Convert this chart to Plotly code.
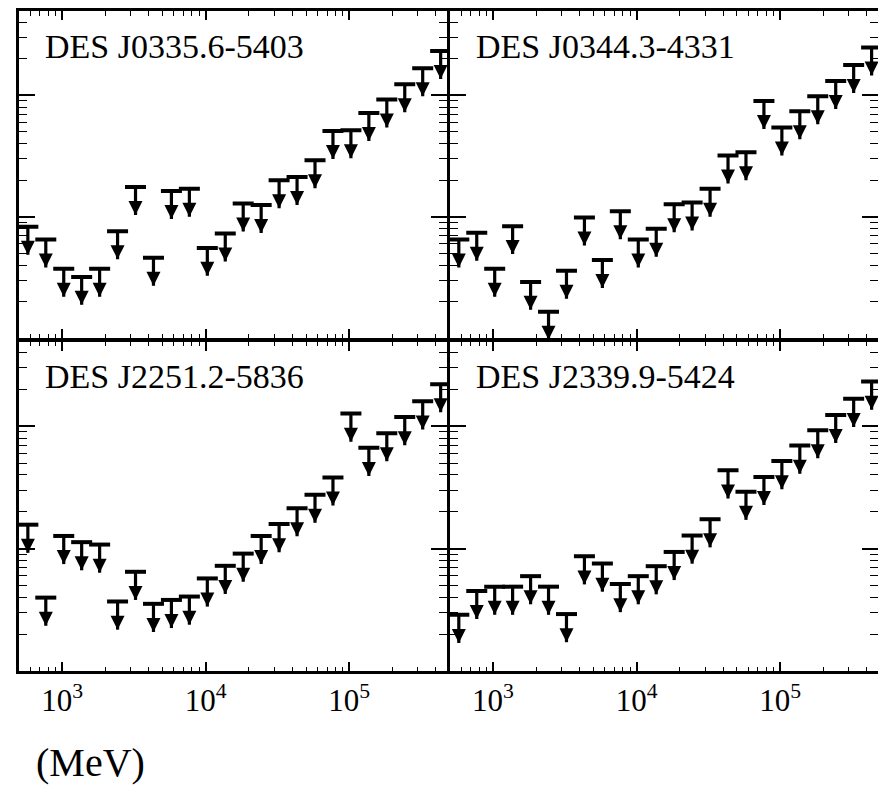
import numpy as np
import plotly.graph_objects as go
from plotly.subplots import make_subplots

# Energy bin centres (MeV)
energy_mev = [577.6, 770.1, 1027, 1369, 1826, 2435, 3247, 4330, 5774, 7700,
              10268, 13693, 18260, 24350, 32471, 43301, 57743, 77000,
              102683, 136931, 182601, 243504, 324719, 433020]

# Upper limits (arbitrary flux units)
ul_J0335 = [8.28e-14, 6.52e-14, 3.74e-14, 3.21e-14, 3.74e-14, 7.63e-14, 1.76e-13, 4.61e-14,
            1.63e-13, 1.70e-13, 5.56e-14, 7.31e-14, 1.29e-13, 1.25e-13, 2.00e-13, 2.13e-13,
            2.92e-13, 5.09e-13, 5.15e-13, 7.15e-13, 9.22e-13, 1.23e-12, 1.67e-12, 2.31e-12]
ul_J0344 = [6.52e-14, 7.39e-14, 3.74e-14, 8.39e-14, 2.92e-14, 1.66e-14, 3.60e-14, 9.89e-14,
            4.41e-14, 1.11e-13, 6.52e-14, 7.97e-14, 1.27e-13, 1.31e-13, 1.70e-13, 3.19e-13,
            3.40e-13, 8.98e-13, 5.43e-13, 7.39e-13, 9.81e-13, 1.31e-12, 1.77e-12, 2.47e-12]
ul_J2251 = [1.57e-13, 3.98e-14, 1.27e-13, 1.13e-13, 1.08e-13, 3.70e-14, 6.47e-14, 3.54e-14,
            3.81e-14, 4.06e-14, 5.71e-14, 7.24e-14, 9.11e-14, 1.27e-13, 1.59e-13, 2.14e-13,
            2.76e-13, 3.82e-13, 1.27e-12, 6.68e-13, 8.78e-13, 1.19e-12, 1.60e-12, 2.21e-12]
ul_J2339 = [2.88e-14, 4.51e-14, 4.89e-14, 4.89e-14, 5.96e-14, 4.89e-14, 2.92e-14, 8.67e-14,
            7.56e-14, 5.14e-14, 5.96e-14, 7.19e-14, 9.40e-14, 1.28e-13, 1.74e-13, 4.37e-13,
            2.92e-13, 3.86e-13, 5.20e-13, 6.97e-13, 9.29e-13, 1.24e-12, 1.68e-12, 2.32e-12]

panel_names = ["DES J0335.6-5403", "DES J0344.3-4331", "DES J2251.2-5836", "DES J2339.9-5424"]
panel_values = [ul_J0335, ul_J0344, ul_J2251, ul_J2339]

x_tick_vals = [1e3, 1e4, 1e5]
x_tick_text = ["10<sup>3</sup>", "10<sup>4</sup>", "10<sup>5</sup>"]
y_tick_vals = [1e-13, 1e-12]

ARROW_DECADES = 0.23  # arrow length in decades
FONT = "Liberation Serif"

x_minor = [m * 10 ** d for d in range(2, 6) for m in range(2, 10)]
y_minor = [m * 10 ** d for d in range(-15, -11) for m in range(2, 10)]

fig = make_subplots(rows=2, cols=2, horizontal_spacing=0, vertical_spacing=0)

positions = [(1, 1), (1, 2), (2, 1), (2, 2)]
for (r, c), name, vals in zip(positions, panel_names, panel_values):
    v = np.array(vals)
    low = v * 10 ** (-ARROW_DECADES)
    fig.add_trace(go.Scatter(
        x=energy_mev, y=v, mode="markers",
        marker=dict(symbol="line-ew", size=15, line=dict(width=4, color="black")),
        error_y=dict(type="data", symmetric=False, array=np.zeros_like(v),
                     arrayminus=v - low, thickness=3.2, width=0, color="black"),
        showlegend=False, hoverinfo="skip"), row=r, col=c)
    fig.add_trace(go.Scatter(
        x=energy_mev, y=low, mode="markers",
        marker=dict(symbol="arrow-down", size=14, color="black", line=dict(width=0)),
        showlegend=False, hoverinfo="skip"), row=r, col=c)
    fig.add_annotation(text=name, xref="x domain", yref="y domain",
                       x=0.0565, y=0.955, xanchor="left", yanchor="top", showarrow=False,
                       font=dict(family=FONT, size=34, color="black"), row=r, col=c)

fig.update_xaxes(type="log", range=[2.700, 5.681],
                 tickvals=x_tick_vals, ticktext=x_tick_text,
                 ticks="inside", ticklen=9, tickwidth=1.5, tickcolor="black",
                 minor=dict(ticks="inside", ticklen=4.5, tickwidth=1.2, tickcolor="black",
                            tickmode="array", tickvals=x_minor),
                 showline=True, linewidth=3, linecolor="black", mirror="ticks",
                 showgrid=False, zeroline=False,
                 tickfont=dict(family=FONT, size=31, color="black"))
fig.update_xaxes(showticklabels=False, row=1)
fig.update_yaxes(type="log", range=[-14.0, -11.307],
                 tickvals=y_tick_vals, showticklabels=False,
                 ticks="inside", ticklen=16, tickwidth=1.5, tickcolor="black",
                 minor=dict(ticks="inside", ticklen=8, tickwidth=1.2, tickcolor="black",
                            tickmode="array", tickvals=y_minor),
                 showline=True, linewidth=3, linecolor="black", mirror="ticks",
                 showgrid=False, zeroline=False)

# domains: small gaps so the shared frame lines coincide
fig.update_xaxes(domain=[0, 0.4983], col=1)
fig.update_xaxes(domain=[0.5017, 1], col=2)
fig.update_yaxes(domain=[0.5038, 1], row=1)
fig.update_yaxes(domain=[0, 0.4992], row=2)

fig.add_annotation(text="(MeV)", xref="paper", yref="paper", x=0.0169, y=-0.1384,
                   xanchor="left", yanchor="middle", showarrow=False,
                   font=dict(family=FONT, size=40, color="black"))

# page body has an 8px margin: compensate so the plot lands where the reference has it
fig.update_layout(width=878, height=779,
                  margin=dict(l=10.5, r=7.5, t=2.5, b=115.5, autoexpand=False),
                  plot_bgcolor="white", paper_bgcolor="white",
                  font=dict(family=FONT, color="black"))

fig.write_html("out.html")
